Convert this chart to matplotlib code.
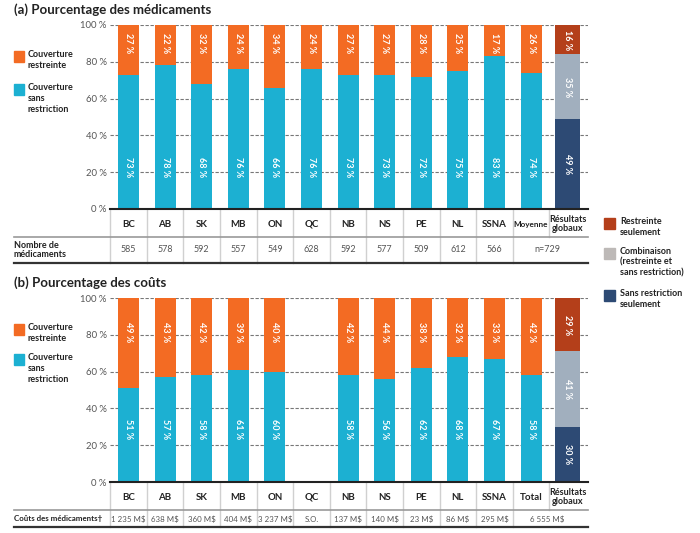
import numpy as np
import matplotlib.pyplot as plt
from matplotlib.lines import Line2D
from matplotlib.patches import Rectangle
from matplotlib.transforms import blended_transform_factory

plt.rcParams['font.family'] = ['Lato', 'DejaVu Sans']

# --- data -------------------------------------------------------------
provinces = ['BC', 'AB', 'SK', 'MB', 'ON', 'QC', 'NB', 'NS', 'PE', 'NL', 'SSNA']

# (a) share of drugs
sans_a = [73, 78, 68, 76, 66, 76, 73, 73, 72, 75, 83, 74]
restr_a = [27, 22, 32, 24, 34, 24, 27, 27, 28, 25, 17, 26]
global_a = [49, 35, 16]          # sans restriction seul., combinaison, restreinte seul.
nb_medicaments = ['585', '578', '592', '557', '549', '628', '592', '577', '509', '612', '566']
nb_total = 'n=729'

# (b) share of costs (QC not available)
sans_b = [51, 57, 58, 61, 60, np.nan, 58, 56, 62, 68, 67, 58]
restr_b = [49, 43, 42, 39, 40, np.nan, 42, 44, 38, 32, 33, 42]
global_b = [30, 41, 29]
couts = ['1 235 M$', '638 M$', '360 M$', '404 M$', '3 237 M$', 'S.O.',
         '137 M$', '140 M$', '23 M$', '86 M$', '295 M$']
couts_total = '6 555 M$'

ORANGE = '#F36B23'
CYAN = '#1CB0D2'
DARKRED = '#B43F1A'
GREYBLUE = '#A1AFBE'
NAVY = '#2D4A74'
LEGEND_GREY = '#BDB9B7'

W, H = 700, 533
fig = plt.figure(figsize=(W / 100, H / 100), dpi=100)


def fx(px):
    return px / W


def fy(py):
    return 1 - py / H


def panel(top, bottom, title, title_y, sans, restr, glob, avg_label,
          restr_lab_y, sans_lab_y, row_label, row_vals, row_total, row_fs,
          hdr_y, hdr_line, data_y, tbl_bottom, leg_y):
    ax = fig.add_axes([fx(110), fy(bottom), fx(588) - fx(110), (bottom - top) / H])
    x = np.arange(len(sans))
    s = np.array(sans, dtype=float)
    r = np.array(restr, dtype=float)
    ok = ~np.isnan(s)
    ax.bar(x[ok], s[ok], width=0.57, color=CYAN, zorder=2)
    ax.bar(x[ok], r[ok], bottom=s[ok], width=0.57, color=ORANGE, zorder=2)
    for i in x[ok]:
        ax.text(i, sans_lab_y, f'{int(s[i])} %', rotation=270, ha='center', va='center',
                color='white', fontsize=6.5, fontweight='bold', zorder=3)
        ax.text(i, restr_lab_y, f'{int(r[i])} %', rotation=270, ha='center', va='center',
                color='white', fontsize=6.5, fontweight='bold', zorder=3)

    # global results bar
    gx = len(sans)
    bot = 0
    for val, col in zip(glob, [NAVY, GREYBLUE, DARKRED]):
        ax.bar(gx, val, bottom=bot, width=0.67, color=col, zorder=2)
        ax.text(gx, bot + val / 2, f'{val} %', rotation=270, ha='center', va='center',
                color='white', fontsize=6.5, fontweight='bold', zorder=3)
        bot += val

    ax.set_xlim(-0.505, 12.555)
    ax.set_ylim(0, 100)
    ax.set_xticks([])
    ax.set_yticks(range(0, 101, 20))
    ax.set_yticklabels([f'{v} %' for v in range(0, 101, 20)])
    ax.tick_params(axis='y', length=0, pad=2.5, labelsize=6.8, labelcolor='#555555')
    for sp in ['top', 'right', 'left']:
        ax.spines[sp].set_visible(False)
    ax.spines['bottom'].set_color('#222222')
    ax.spines['bottom'].set_linewidth(1.5)
    ax.spines['bottom'].set_zorder(4)
    ax.grid(axis='y', color='#777777', linestyle=(0, (3, 1.5)), linewidth=0.8)
    ax.set_axisbelow(True)

    fig.text(fx(14), fy(title_y), title, ha='left', va='center', fontsize=9.5,
             fontweight='bold', color='#222222')

    # table under the bars
    trans = blended_transform_factory(ax.transData, fig.transFigure)
    headers = provinces + [avg_label]
    for i, h in enumerate(headers):
        ax.text(i, fy(hdr_y), h, transform=trans, ha='center', va='center',
                fontsize=7 if h != 'Moyenne' else 5.9, fontweight='bold', color='#222222')
    ax.text(12, fy(hdr_y), 'Résultats\nglobaux', transform=trans, ha='center', va='center',
            fontsize=6.5, fontweight='bold', color='#222222', linespacing=1.05)
    for b in np.arange(-0.5, 12, 1):
        y_end = hdr_line if b == 11.5 else tbl_bottom
        ax.add_artist(Line2D([b, b], [fy(bottom + 1), fy(y_end)], transform=trans,
                             color='#d0d0d0', lw=1, clip_on=False, zorder=1))
    fig.add_artist(Line2D([fx(14), fx(588)], [fy(hdr_line)] * 2, color='#999999', lw=1.2))
    fig.add_artist(Line2D([fx(14), fx(588)], [fy(tbl_bottom)] * 2, color='#333333', lw=1.6))
    for i, v in enumerate(row_vals):
        ax.text(i, fy(data_y), v, transform=trans, ha='center', va='center',
                fontsize=row_fs, color='#555555')
    ax.text(11.45, fy(data_y), row_total, transform=trans, ha='center', va='center',
            fontsize=row_fs, color='#555555')
    fig.text(fx(14), fy(data_y), row_label, ha='left', va='center', fontsize=row_fs,
             fontweight='bold', color='#222222', linespacing=1.1)

    # left legend
    for (y0, col, lab) in [(leg_y[0], ORANGE, 'Couverture\nrestreinte'),
                           (leg_y[1], CYAN, 'Couverture\nsans\nrestriction')]:
        fig.add_artist(Rectangle((fx(14), fy(y0 + 11)), fx(10), 11 / H, color=col,
                                 transform=fig.transFigure))
        fig.text(fx(28), fy(y0 - 1), lab, ha='left', va='top', fontsize=6.5,
                 fontweight='bold', color='#222222', linespacing=1.25)
    return ax


panel(25, 209, '(a) Pourcentage des médicaments', 10, sans_a, restr_a, global_a,
      'Moyenne', 90, 23, 'Nombre de\nmédicaments', nb_medicaments, nb_total, 6.5,
      224, 237, 250, 262.5, (51, 84))
panel(298, 482, '(b) Pourcentage des coûts', 283, sans_b, restr_b, global_b,
      'Total', 81.5, 29, 'Coûts des médicaments\u2020', couts, couts_total, 5.7,
      497, 510, 519, 527, (324, 354))

# right legend for the global results
for (y0, col, lab) in [(218, DARKRED, 'Restreinte\nseulement'),
                       (248, LEGEND_GREY, 'Combinaison\n(restreinte et\nsans restriction)'),
                       (290, NAVY, 'Sans restriction\nseulement')]:
    fig.add_artist(Rectangle((fx(604), fy(y0 + 11)), fx(11), 11 / H, color=col,
                             transform=fig.transFigure))
    fig.text(fx(620), fy(y0 - 1), lab, ha='left', va='top', fontsize=6.5,
             fontweight='bold', color='#222222', linespacing=1.25)

fig.savefig('out.png', dpi=100)
